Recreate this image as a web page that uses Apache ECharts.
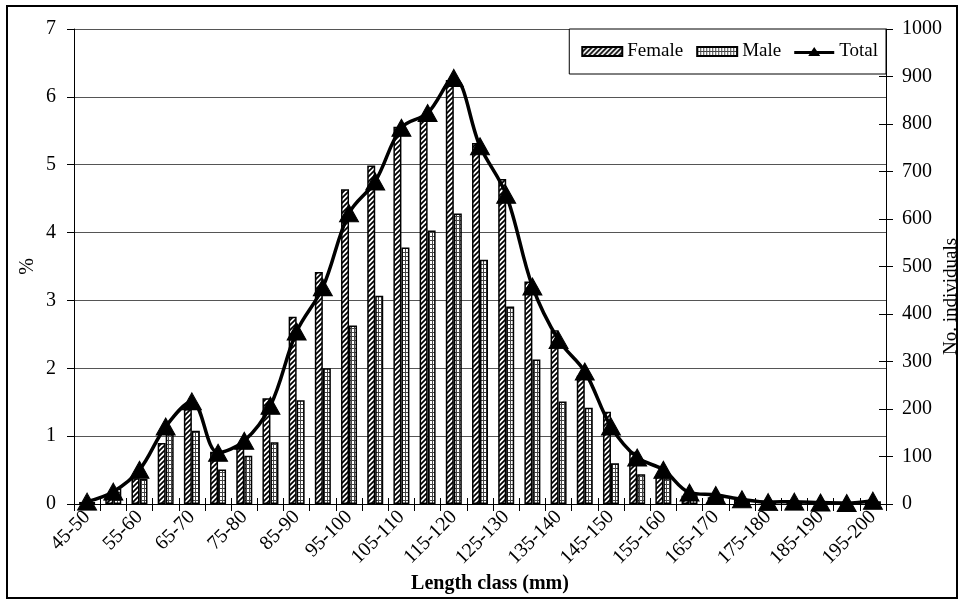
<!DOCTYPE html>
<html>
<head>
<meta charset="utf-8">
<title>Length class distribution</title>
<script src="https://cdn.jsdelivr.net/npm/echarts@6/dist/echarts.min.js"></script>
<style>
  html, body { margin: 0; padding: 0; background: #fff; }
  #wrap { position: relative; width: 963px; height: 604px; }
  #container { width: 963px; height: 604px; }
  #frame { position: absolute; left: 6px; top: 5px; width: 948px; height: 590px; border: 2px solid #000; pointer-events: none; }
</style>
</head>
<body>
<div id="wrap">
  <div id="container"></div>
  <div id="frame"></div>
</div>
<script>
// length classes (mm)
var lengthClasses = ['45-50','50-55','55-60','60-65','65-70','70-75','75-80','80-85','85-90','90-95',
    '95-100','100-105','105-110','110-115','115-120','120-125','125-130','130-135','135-140','140-145',
    '145-150','150-155','155-160','160-165','165-170','170-175','175-180','180-185','185-190','190-195','195-200'];

// % of females / males per class
var femalePct = [0.03, 0.13, 0.38, 0.90, 1.40, 0.77, 0.85, 1.56, 2.76, 3.42,
    4.64, 4.99, 5.56, 5.68, 6.25, 5.32, 4.79, 3.28, 2.56, 1.89,
    1.36, 0.77, 0.42, 0.12, 0.10, 0.06, 0.02, 0.03, 0.02, 0.01, 0.05];
var malePct = [0.03, 0.23, 0.37, 1.03, 1.08, 0.51, 0.71, 0.91, 1.53, 2.00,
    2.63, 3.07, 3.78, 4.03, 4.28, 3.60, 2.91, 2.13, 1.51, 1.42,
    0.60, 0.44, 0.38, 0.13, 0.11, 0.06, 0.03, 0.03, 0.02, 0.01, 0.04];

// number of individuals (both sexes)
var totalCount = [5, 26, 72, 163, 216, 108, 133, 207, 363, 456,
    612, 679, 792, 823, 897, 753, 651, 458, 345, 279,
    163, 98, 72, 24, 19, 10, 4, 5, 3, 2, 7];

var leftTicks = { min: 0, max: 7, interval: 1 };
var rightTicks = { min: 0, max: 1000, interval: 100 };

var serif = 'Liberation Serif';

// hatch fill for females
function hatchPattern() {
    var c = document.createElement('canvas');
    c.width = 5; c.height = 5;
    var ctx = c.getContext('2d');
    ctx.fillStyle = '#fff';
    ctx.fillRect(0, 0, 5, 5);
    ctx.strokeStyle = '#000';
    ctx.lineWidth = 1.7;
    ctx.beginPath();
    ctx.moveTo(-1, 6); ctx.lineTo(6, -1);
    ctx.moveTo(-1, 1); ctx.lineTo(1, -1);
    ctx.moveTo(4, 6); ctx.lineTo(6, 4);
    ctx.stroke();
    return c;
}
// grid fill for males
function gridPattern() {
    var c = document.createElement('canvas');
    c.width = 3; c.height = 4;
    var ctx = c.getContext('2d');
    ctx.fillStyle = '#fff';
    ctx.fillRect(0, 0, 3, 4);
    ctx.fillStyle = '#444';
    ctx.fillRect(0, 0, 3, 1);
    ctx.fillRect(0, 0, 1, 4);
    return c;
}

// legend icon: thick line with a triangle in the middle
var totalIcon = 'path://M0,4L17.3,4L20,0L22.7,4L40,4L40,7L24.7,7L26,9L14,9L15.3,7L0,7Z';

var dom = document.getElementById('container');
var myChart = echarts.init(dom, null, { renderer: 'canvas' });

var option = {
    animation: false,
    backgroundColor: '#fff',
    textStyle: { fontFamily: serif, color: '#000' },
    grid: { left: 74, right: 77, top: 29, bottom: 100, containLabel: false, outerBoundsMode: 'none' },
    legend: {
        right: 77,
        top: 29,
        orient: 'horizontal',
        backgroundColor: '#fff',
        borderColor: '#000',
        borderWidth: 1,
        borderRadius: 0,
        padding: [13, 8, 13, 12],
        itemGap: 13,
        itemWidth: 40,
        itemHeight: 9,
        textStyle: { fontFamily: serif, fontSize: 19, color: '#000' },
        data: [
            { name: 'Female', icon: 'rect' },
            { name: 'Male', icon: 'rect' },
            { name: 'Total', icon: totalIcon, itemStyle: { color: '#000' } }
        ]
    },
    xAxis: [
        {
            type: 'category',
            data: lengthClasses,
            boundaryGap: true,
            name: 'Length class (mm)',
            nameLocation: 'middle',
            nameGap: 70,
            nameMoveOverlap: false,
            nameTextStyle: { fontFamily: serif, fontSize: 20, fontWeight: 'bold', color: '#000', padding: [0, 0, 0, 20] },
            axisLine: { show: true, lineStyle: { color: '#000', width: 1 } },
            axisTick: { show: true, interval: 0, length: 7, lineStyle: { color: '#000' } },
            axisLabel: { interval: 1, rotate: 45, margin: 10, fontFamily: serif, fontSize: 20, color: '#000' },
            splitLine: { show: false }
        },
        {
            type: 'category',
            data: lengthClasses,
            position: 'bottom',
            boundaryGap: true,
            axisLine: { show: false },
            axisTick: { show: true, inside: true, interval: 0, length: 6, lineStyle: { color: '#000' } },
            axisLabel: { show: false },
            splitLine: { show: false }
        }
    ],
    yAxis: [
        {
            type: 'value',
            position: 'left',
            min: leftTicks.min,
            max: leftTicks.max,
            interval: leftTicks.interval,
            name: '%',
            nameLocation: 'middle',
            nameRotate: 90,
            nameGap: 36,
            nameMoveOverlap: false,
            nameTextStyle: { fontFamily: serif, fontSize: 20, color: '#000' },
            axisLine: { show: true, lineStyle: { color: '#000', width: 1 } },
            axisTick: { show: true, length: 7, lineStyle: { color: '#000' } },
            axisLabel: { margin: 18, fontFamily: serif, fontSize: 20, color: '#000' },
            splitLine: { show: true, lineStyle: { color: '#555', width: 1 } }
        },
        {
            type: 'value',
            position: 'right',
            min: rightTicks.min,
            max: rightTicks.max,
            interval: rightTicks.interval,
            name: 'No. individuals',
            nameLocation: 'middle',
            nameRotate: 90,
            nameGap: 56,
            nameMoveOverlap: false,
            nameTextStyle: { fontFamily: serif, fontSize: 19, color: '#000', padding: [0, 60, 0, 0] },
            axisLine: { show: true, lineStyle: { color: '#000', width: 1 } },
            axisTick: { show: true, length: 7, lineStyle: { color: '#000' } },
            axisLabel: {
                margin: 16, fontFamily: serif, fontSize: 20, color: '#000',
                formatter: function (v) { return String(v); }
            },
            splitLine: { show: false }
        },
        {
            type: 'value',
            position: 'right',
            min: rightTicks.min,
            max: rightTicks.max,
            interval: rightTicks.interval,
            axisLine: { show: false },
            axisTick: { show: true, inside: true, length: 7, lineStyle: { color: '#000' } },
            axisLabel: { show: false },
            splitLine: { show: false }
        }
    ],
    series: [
        {
            name: 'Female',
            type: 'bar',
            xAxisIndex: 0,
            yAxisIndex: 0,
            barWidth: 8,
            barGap: '0%',
            data: femalePct,
            itemStyle: {
                color: { image: hatchPattern(), repeat: 'repeat' },
                borderColor: '#000',
                borderWidth: 1.5
            }
        },
        {
            name: 'Male',
            type: 'bar',
            xAxisIndex: 0,
            yAxisIndex: 0,
            barWidth: 8,
            barGap: '0%',
            data: malePct,
            itemStyle: {
                color: { image: gridPattern(), repeat: 'repeat' },
                borderColor: '#000',
                borderWidth: 1.5
            }
        },
        {
            name: 'Total',
            type: 'line',
            xAxisIndex: 0,
            yAxisIndex: 1,
            data: totalCount,
            smooth: 0.35,
            symbol: 'triangle',
            symbolSize: [19, 17],
            showAllSymbol: true,
            z: 5,
            lineStyle: { color: '#000', width: 3.5 },
            itemStyle: { color: '#000', borderColor: '#000' }
        }
    ]
};

if (option && typeof option === "object") {
    myChart.setOption(option, true);
}
</script>
</body>
</html>
